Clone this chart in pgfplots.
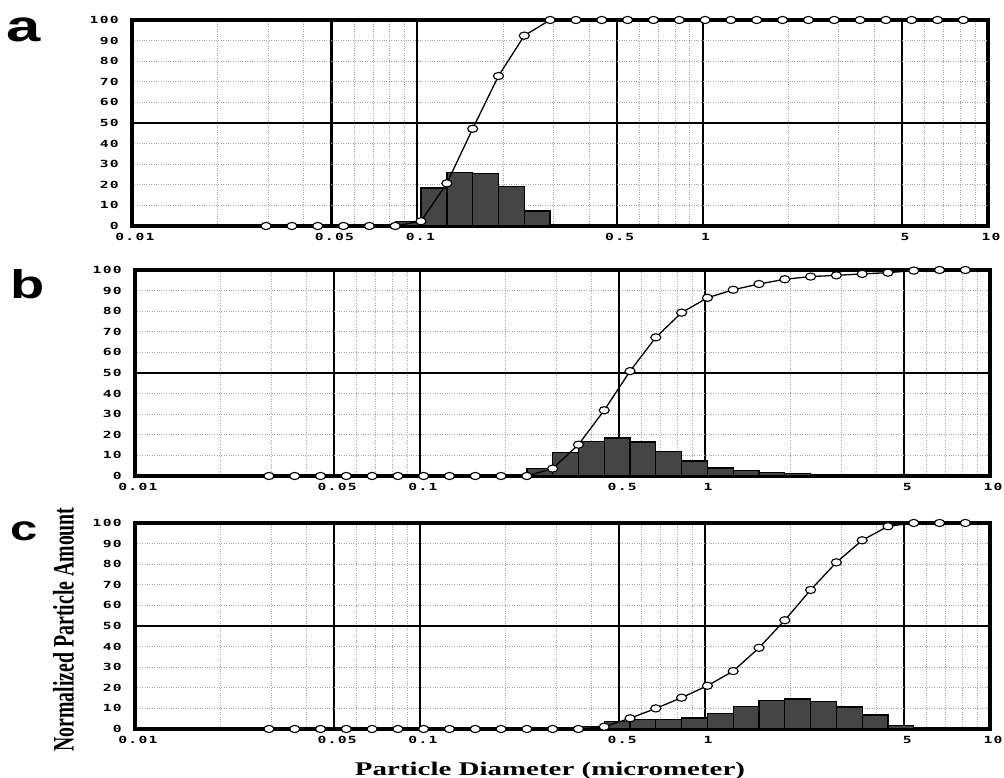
\documentclass[border=0pt]{standalone}
\usepackage{fontspec}
\usepackage{pgfplots}
\usepackage{pgfplotstable}
\pgfplotsset{compat=1.18}
\newfontfamily\tickfam{DejaVu Sans Mono}[FakeStretch=1.5,LetterSpace=13]
\newfontfamily\serifwide{Liberation Serif}[FakeStretch=1.5]
\newfontfamily\serifplain{Liberation Serif}
\newfontfamily\letterfam{Liberation Sans}[FakeStretch=1.4]
\newcommand{\tickfont}{\tickfam\bfseries\fontsize{9.8}{10}\selectfont}

% cumulative curves (x, a, b, c)
\pgfplotstableread{
x       a     b     c
0.02951 0     0     0
0.03635 0     0     0
0.04477 0     0     0
0.05513 0     0     0
0.06792 0     0     0
0.08366 0     0     0
0.1030  2.3   0     0
0.1269  20.7  0     0
0.1563  47.2  0     0
0.1925  72.8  0     0
0.2371  92.4  0     0
0.2920  100   3.6   0
0.3597  100   15.2  0
0.4430  100   31.9  1.1
0.5458  100   50.9  5.2
0.6722  100   67.3  10.0
0.8279  100   79.3  15.2
1.0198  100   86.5  21.0
1.2560  100   90.4  28.1
1.5472  100   93.2  39.4
1.9055  100   95.5  52.8
2.3471  100   96.8  67.5
2.8907  100   97.4  80.9
3.5605  100   98.1  91.6
4.3853  100   98.7  98.4
5.4014  100   99.7  100
6.6527  100   100   100
8.1941  100   100   100
}\cum

\pgfplotstableread{
x       h
0.08366 2.3
0.1030  18.4
0.1269  26.1
0.1563  25.6
0.1925  19.3
0.2371  7.3
0.2920  0
}\barsa

\pgfplotstableread{
x       h
0.2371  3.6
0.2920  11.3
0.3597  16.9
0.4430  18.5
0.5458  16.5
0.6722  11.8
0.8279  7.3
1.0198  3.9
1.2560  2.6
1.5472  1.8
1.9055  1.2
2.3471  0.6
2.8907  0.5
3.5605  0.6
4.3853  0.7
5.4014  0
}\barsb

\pgfplotstableread{
x       h
0.3597  1.1
0.4430  3.5
0.5458  4.7
0.6722  4.7
0.8279  5.3
1.0198  7.5
1.2560  10.8
1.5472  13.7
1.9055  14.5
2.3471  13.4
2.8907  10.7
3.5605  6.8
4.3853  1.6
5.4014  0
}\barsc

\begin{document}
\begin{tikzpicture}
\path[use as bounding box] (0,0) rectangle (1004pt,778pt);

% heavy outer frames, drawn first so that the circles lie over them
\draw[line width=3.8pt] (132pt,552pt) rectangle (988pt,758pt);
\draw[line width=3.8pt] (135pt,302pt) rectangle (990pt,508pt);
\draw[line width=3.8pt] (135pt,49pt) rectangle (990pt,255pt);

\begin{axis}[at={(132pt,552pt)}, anchor=south west,
  scale only axis, width=856pt, height=206pt,
  xmode=log, xmin=0.01, xmax=10, ymin=0, ymax=100,
  xtick={0.01,0.05,0.1,0.5,1,5,10},
  xticklabels={0.01,0.05,0.1,0.5,1,5,10},
  minor xtick={0.02,0.03,0.04,0.06,0.07,0.08,0.09,0.2,0.3,0.4,0.6,0.7,0.8,0.9,2,3,4,6,7,8,9},
  ytick={10,20,30,40,60,70,80,90},
  yticklabels={10,20,30,40,60,70,80,90},
  extra y ticks={0,50,100}, extra y tick labels={0,50,100},
  xmajorgrids, xminorgrids, ymajorgrids,
  major x grid style={black, solid, line width=2.2pt},
  minor x grid style={black!35, dotted, line width=0.8pt},
  major y grid style={black!35, dotted, line width=0.8pt},
  extra y tick style={major y grid style={black, solid, line width=1.6pt}},
  axis line style={draw=black, line width=2pt},
  major tick length=0pt, minor tick length=0pt,
  xticklabel style={font=\tickfont, anchor=north, inner sep=0pt, yshift=-7pt, xshift=3pt},
  yticklabel style={font=\tickfont, anchor=east, inner sep=0pt, xshift=-13pt},
  clip=false]
\addplot[ybar interval, fill=black!73, draw=black, line width=1.3pt] table[x=x,y=h] {\barsa};
\addplot[black, line width=1.3pt, mark=*, mark size=3.6pt,
    mark options={fill=white, draw=black, line width=1.1pt, xscale=1.4}] table[x=x,y=a] {\cum};
\end{axis}

\begin{axis}[at={(135pt,302pt)}, anchor=south west,
  scale only axis, width=855pt, height=206pt,
  xmode=log, xmin=0.01, xmax=10, ymin=0, ymax=100,
  xtick={0.01,0.05,0.1,0.5,1,5,10},
  xticklabels={0.01,0.05,0.1,0.5,1,5,10},
  minor xtick={0.02,0.03,0.04,0.06,0.07,0.08,0.09,0.2,0.3,0.4,0.6,0.7,0.8,0.9,2,3,4,6,7,8,9},
  ytick={10,20,30,40,60,70,80,90},
  yticklabels={10,20,30,40,60,70,80,90},
  extra y ticks={0,50,100}, extra y tick labels={0,50,100},
  xmajorgrids, xminorgrids, ymajorgrids,
  major x grid style={black, solid, line width=2.2pt},
  minor x grid style={black!35, dotted, line width=0.8pt},
  major y grid style={black!35, dotted, line width=0.8pt},
  extra y tick style={major y grid style={black, solid, line width=1.6pt}},
  axis line style={draw=black, line width=2pt},
  major tick length=0pt, minor tick length=0pt,
  xticklabel style={font=\tickfont, anchor=north, inner sep=0pt, yshift=-7pt, xshift=3pt},
  yticklabel style={font=\tickfont, anchor=east, inner sep=0pt, xshift=-13pt},
  clip=false]
\addplot[ybar interval, fill=black!73, draw=black, line width=1.3pt] table[x=x,y=h] {\barsb};
\addplot[black, line width=1.3pt, mark=*, mark size=3.6pt,
    mark options={fill=white, draw=black, line width=1.1pt, xscale=1.4}] table[x=x,y=b] {\cum};
\end{axis}

\begin{axis}[at={(135pt,49pt)}, anchor=south west,
  scale only axis, width=855pt, height=206pt,
  xmode=log, xmin=0.01, xmax=10, ymin=0, ymax=100,
  xtick={0.01,0.05,0.1,0.5,1,5,10},
  xticklabels={0.01,0.05,0.1,0.5,1,5,10},
  minor xtick={0.02,0.03,0.04,0.06,0.07,0.08,0.09,0.2,0.3,0.4,0.6,0.7,0.8,0.9,2,3,4,6,7,8,9},
  ytick={10,20,30,40,60,70,80,90},
  yticklabels={10,20,30,40,60,70,80,90},
  extra y ticks={0,50,100}, extra y tick labels={0,50,100},
  xmajorgrids, xminorgrids, ymajorgrids,
  major x grid style={black, solid, line width=2.2pt},
  minor x grid style={black!35, dotted, line width=0.8pt},
  major y grid style={black!35, dotted, line width=0.8pt},
  extra y tick style={major y grid style={black, solid, line width=1.6pt}},
  axis line style={draw=black, line width=2pt},
  major tick length=0pt, minor tick length=0pt,
  xticklabel style={font=\tickfont, anchor=north, inner sep=0pt, yshift=-7pt, xshift=3pt},
  yticklabel style={font=\tickfont, anchor=east, inner sep=0pt, xshift=-13pt},
  clip=false]
\addplot[ybar interval, fill=black!73, draw=black, line width=1.3pt] table[x=x,y=h] {\barsc};
\addplot[black, line width=1.3pt, mark=*, mark size=3.6pt,
    mark options={fill=white, draw=black, line width=1.1pt, xscale=1.4}] table[x=x,y=c] {\cum};
\end{axis}

\node[anchor=base, inner sep=0pt, font=\letterfam\bfseries\fontsize{44}{44}\selectfont] at (24pt,736pt) {a};
\node[anchor=base, inner sep=0pt, font=\letterfam\bfseries\fontsize{40}{40}\selectfont] at (28pt,479pt) {b};
\node[anchor=base, inner sep=0pt, font=\letterfam\bfseries\fontsize{35}{35}\selectfont] at (24.5pt,237pt) {c};

\node[anchor=center, inner sep=0pt] at (63.5pt,148.5pt)
  {\scalebox{1.5}[1]{\rotatebox{90}{\serifplain\bfseries\fontsize{19.8}{20}\selectfont Normalized Particle Amount}}};
\node[anchor=base, inner sep=0pt] at (550pt,2.5pt)
  {\serifwide\bfseries\fontsize{19.3}{20}\selectfont Particle Diameter (micrometer)};
\end{tikzpicture}
\end{document}
